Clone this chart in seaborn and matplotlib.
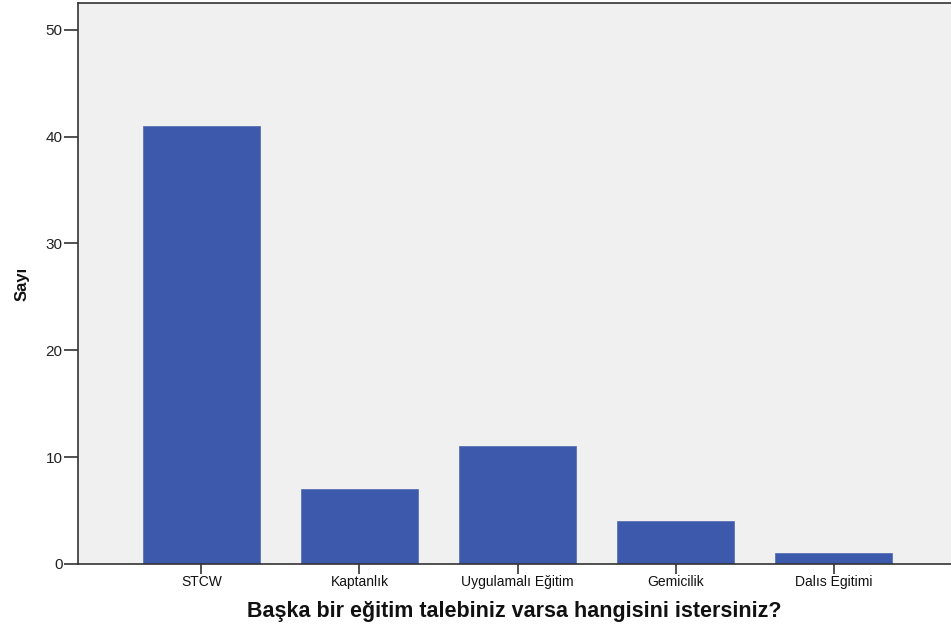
import matplotlib
matplotlib.use("Agg")
import matplotlib.pyplot as plt
import seaborn as sns
import pandas as pd

# Kategoriler ve sayılar
categories = ["STCW", "Kaptanlık", "Uygulamalı Eğitim", "Gemicilik", "Dalıs Egitimi"]
counts = [41, 7, 11, 4, 1]
y_ticks = [0, 10, 20, 30, 40, 50]

df = pd.DataFrame({"egitim": categories, "sayi": counts})

sns.set_style("white")
plt.rcParams["font.family"] = ["Liberation Sans", "DejaVu Sans"]

fig = plt.figure(figsize=(9.51, 6.3), dpi=100)
ax = fig.add_axes([0.082, 0.105, 0.918, 0.89])
ax.set_facecolor("#F0F0F0")

sns.barplot(data=df, x="egitim", y="sayi", color="#3D59AB", saturation=1,
            width=0.74, edgecolor="#5A72B8", linewidth=0.6, ax=ax)

ax.set_xlim(-0.78, 4.74)
ax.set_ylim(0, 52.5)
ax.set_yticks(y_ticks)
ax.set_yticklabels([str(t) for t in y_ticks], fontsize=11, color="#222222")
ax.tick_params(axis="x", bottom=True, labelsize=10, length=7, width=1.2, color="#333333",
               labelcolor="#111111", direction="out", pad=1)
ax.tick_params(axis="y", left=True, length=10, width=1.2, color="#333333", direction="out", pad=1)

ax.set_xlabel("Başka bir eğitim talebiniz varsa hangisini istersiniz?", fontsize=15.5,
              fontweight="bold", labelpad=9, color="#111111")
ax.set_ylabel("Sayı", fontsize=12, fontweight="bold", labelpad=12, color="#111111")

for side in ["left", "bottom", "top"]:
    ax.spines[side].set_visible(True)
    ax.spines[side].set_color("#333333")
    ax.spines[side].set_linewidth(1.2)
ax.spines["right"].set_visible(False)

fig.savefig("out.png", dpi=100)
